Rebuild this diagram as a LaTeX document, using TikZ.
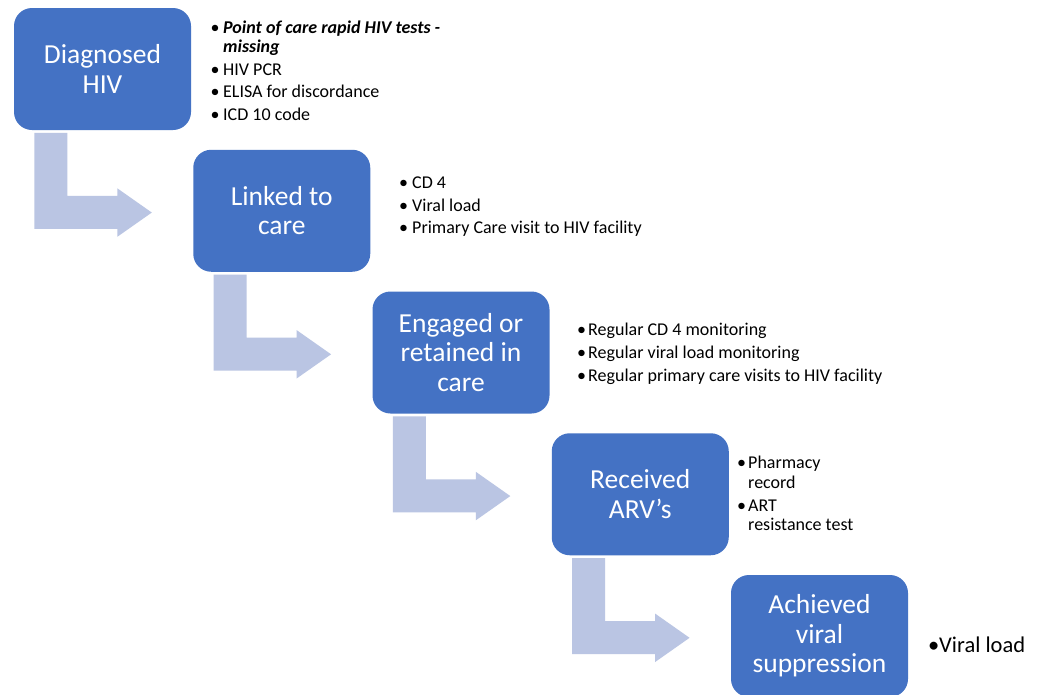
\documentclass[tikz,border=0pt]{standalone}
\usepackage{fontspec}
\setmainfont{Carlito}
\usetikzlibrary{calc}
\definecolor{boxblue}{HTML}{4472C4}
\definecolor{arrowlav}{HTML}{BAC5E3}
\newcommand\bul[1]{\llap{•\hspace{#1pt}}}
\newcommand\bentarrow[2]{%
  \fill[arrowlav]
    ([shift={(20.5,125)}]#1.north west) --
    ([shift={(53.5,125)}]#1.north west) --
    ([shift={(53.5,188)}]#1.north west) --
    ([shift={(103.5,188)}]#1.north west) --
    ([shift={(103.5,180.5)}]#1.north west) --
    ([shift={(138,204.75)}]#1.north west) --
    ([shift={(103.5,229)}]#1.north west) --
    ([shift={(103.5,221)}]#1.north west) --
    ([shift={(20.5,221)}]#1.north west) -- cycle;}
\begin{document}
\begin{tikzpicture}[x=1pt,y=-1pt,
  stepbox/.style={fill=boxblue, rounded corners=18pt, minimum width=177pt,
    minimum height=122pt, inner sep=0pt, text=white, align=center,
    font=\fontsize{27.5}{29.5}\selectfont},
  bullist/.style={anchor=base west, inner sep=0pt,
    font=\fontsize{18}{19.5}\selectfont}]
\useasboundingbox (0,0) rectangle (1044,694);
\fill[white] (0,0) rectangle (1044,694);

\node[stepbox] (b1) at (102.5,69) {Diagnosed\\HIV};
\node[stepbox] (b2) at (281.75,210.75) {Linked to\\care};
\node[stepbox] (b3) at (461,352.5) {Engaged or\\retained in\\care};
\node[stepbox] (b4) at (640.25,494.25) {Received\\ARV’s};
\node[stepbox] (b5) at (819.5,636) {Achieved\\viral\\suppression};

\bentarrow{b1}{b2}
\bentarrow{b2}{b3}
\bentarrow{b3}{b4}
\bentarrow{b4}{b5}

\node[bullist] (l1) at (223,33) {\begin{tabular}[t]{@{}l@{}}
\bul{3.5}\textbf{\textit{Point of care rapid HIV tests -}}\\
\textbf{\textit{missing}}\\[3pt]
\bul{3.5}HIV PCR\\[3pt]
\bul{3.5}ELISA for discordance\\[3pt]
\bul{3.5}ICD 10 code
\end{tabular}};

\node[bullist] (l2) at (412,188.5) {\begin{tabular}[t]{@{}l@{}}
\bul{4}CD 4\\[3pt]
\bul{4}Viral load\\[3pt]
\bul{4}Primary Care visit to HIV facility
\end{tabular}};

\node[bullist] (l3) at (588,335) {\begin{tabular}[t]{@{}l@{}}
\bul{2}Regular CD 4 monitoring\\[3.5pt]
\bul{2}Regular viral load monitoring\\[3.5pt]
\bul{2}Regular primary care visits to HIV facility
\end{tabular}};

\node[bullist] (l4) at (748,468.5) {\begin{tabular}[t]{@{}l@{}}
\bul{2}Pharmacy\\
record\\[3.5pt]
\bul{2}ART\\
resistance test
\end{tabular}};

\node[anchor=base west, inner sep=0pt, font=\fontsize{22.5}{27}\selectfont]
  (l5) at (939,652) {\llap{•}Viral load};
\end{tikzpicture}
\end{document}
